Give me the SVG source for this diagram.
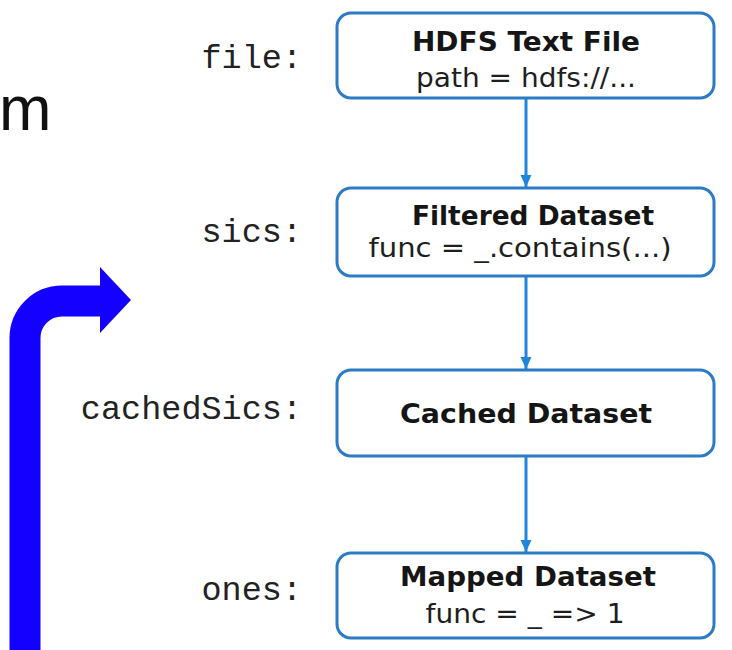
<svg xmlns="http://www.w3.org/2000/svg" width="732" height="650" viewBox="0 0 732 650">
<defs>
<style>
.box{fill:#ffffff;stroke:#2c7bc4;stroke-width:3}
.title{font-family:"DejaVu Sans",Verdana,sans-serif;font-weight:bold;font-size:26px;fill:#151515;text-anchor:middle}
.sub{font-family:"DejaVu Sans",Verdana,sans-serif;font-size:26px;fill:#1e1e1e;text-anchor:middle}
.lbl{font-family:"Liberation Mono","Courier New",monospace;font-size:33.5px;fill:#222222;text-anchor:end}
.conn{stroke:#1e86dc;stroke-width:3;fill:none}
</style>
<marker id="ah" markerUnits="userSpaceOnUse" markerWidth="12" markerHeight="12" refX="12" refY="6" orient="auto">
<path d="M0,0.5 L12,6 L0,11.5 z" fill="#1e86dc"/>
</marker>
</defs>
<rect width="732" height="650" fill="#ffffff"/>
<text x="-1" y="130" font-family="Liberation Sans,Arial,sans-serif" font-size="63" fill="#111111">m</text>
<g id="big-arrow">
<path d="M25,660 V338 A37,37 0 0 1 62,301 H102" fill="none" stroke="#1400ff" stroke-width="31"/>
<polygon points="100,267 131,300 100,333" fill="#1400ff"/>
</g>
<g id="labels">
<text class="lbl" x="302" y="68">file:</text>
<text class="lbl" x="302" y="242">sics:</text>
<text class="lbl" x="302" y="419">cachedSics:</text>
<text class="lbl" x="302" y="600">ones:</text>
</g>
<g id="connectors">
<line class="conn" x1="526" y1="99" x2="526" y2="187" marker-end="url(#ah)"/>
<line class="conn" x1="526" y1="277" x2="526" y2="369" marker-end="url(#ah)"/>
<line class="conn" x1="526" y1="457" x2="526" y2="552" marker-end="url(#ah)"/>
</g>
<g id="node-hdfs">
<rect class="box" x="337" y="13" width="377" height="85" rx="14"/>
<text class="title" x="526" y="51" textLength="228" lengthAdjust="spacingAndGlyphs">HDFS Text File</text>
<text class="sub" x="526" y="87" textLength="220" lengthAdjust="spacingAndGlyphs">path = hdfs://...</text>
</g>
<g id="node-filtered">
<rect class="box" x="337" y="188" width="377" height="88" rx="14"/>
<text class="title" x="533" y="225" textLength="242" lengthAdjust="spacingAndGlyphs">Filtered Dataset</text>
<text class="sub" x="520" y="257" textLength="303" lengthAdjust="spacingAndGlyphs">func = _.contains(...)</text>
</g>
<g id="node-cached">
<rect class="box" x="337" y="370" width="377" height="86" rx="14"/>
<text class="title" x="526" y="423" textLength="252" lengthAdjust="spacingAndGlyphs">Cached Dataset</text>
</g>
<g id="node-mapped">
<rect class="box" x="337" y="553" width="377" height="85" rx="14"/>
<text class="title" x="528" y="586" textLength="256" lengthAdjust="spacingAndGlyphs">Mapped Dataset</text>
<text class="sub" x="525" y="623" textLength="199" lengthAdjust="spacingAndGlyphs">func = _ =&gt; 1</text>
</g>
</svg>
